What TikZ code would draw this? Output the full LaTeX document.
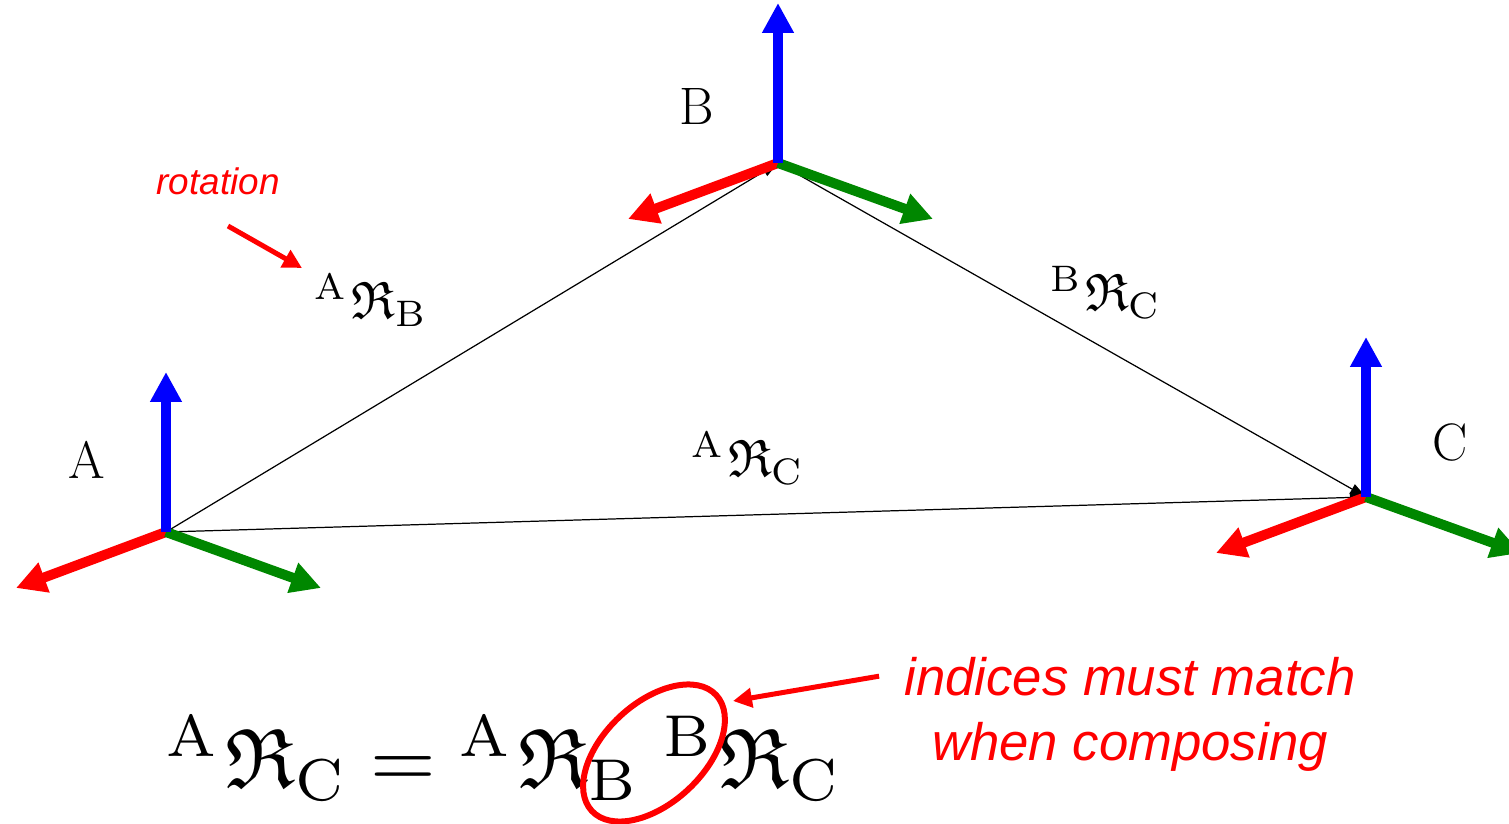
\documentclass[tikz,border=0pt]{standalone}
\usepackage{amsmath,amssymb}
\usepackage{fontspec}
\newfontfamily\notefont{Liberation Sans}
\usepackage{tikz}
\usetikzlibrary{positioning,arrows.meta,calc,shapes.geometric}
\definecolor{axisgreen}{RGB}{0,135,0}
\tikzset{
  axis/.style={line width=0.2cm, -{Triangle[length=0.6cm,width=0.6cm]}},
  xaxis/.style={axis, red},
  yaxis/.style={axis, axisgreen},
  zaxis/.style={axis, blue},
  link/.style={line width=0.7pt, -{Triangle[length=0.32cm,width=0.22cm]}},
  framelbl/.style={font=\fontsize{30}{36}\selectfont},
  rotlbl/.style={scale=3, inner sep=1pt},
  note/.style={red, font=\notefont\itshape\fontsize{30}{37}\selectfont, inner sep=0pt},
  notearrow/.style={red, line width=0.1cm, -{Triangle[length=0.38cm,width=0.38cm]}},
}
\newcommand{\rotm}[2]{{}^{\mathrm{#1}}\mkern1mu\mathfrak{R}_{\mathrm{#2}}}

\begin{document}
\begin{tikzpicture}[x=0.02cm, y=-0.02cm]
\clip (0,0) rectangle (1509,824);

% frame origins
\coordinate (A) at (166,532);
\coordinate (B) at (778,163);
\coordinate (C) at (1366,497);

% transforms between frames
\draw[link] (A) -- (B);
\draw[link] (B) -- (C);
\draw[link] (A) -- (C);

\foreach \f in {A,B,C} {
  \draw[xaxis] (\f) -- ++(-150,56);
  \draw[yaxis] (\f) -- ++(155,56);
  \draw[zaxis] (\f) -- ++(0,-160);
}

\node[framelbl] (lA) at (87,460) {A};
\node[framelbl] (lB) at (697,107) {B};
\node[framelbl] (lC) at (1450,442) {C};

\node[rotlbl] (aRb) at (371,300) {$\rotm{A}{B}$};
\node[rotlbl] (bRc) at (1106,293) {$\rotm{B}{C}$};
\node[rotlbl] (aRc) at (748,458) {$\rotm{A}{C}$};

% annotation
\node[note, font=\notefont\itshape\fontsize{21}{25}\selectfont] (rot) at (218,181) {rotation};
\coordinate (r0) at (228,226);
\coordinate (r1) at (302,268);
\draw[notearrow] (r0) -- (r1);

% composition rule
\node[scale=4.8] (eq) at (504,758)
  {$\rotm{A}{C} = \rotm{A}{B}\;\rotm{B}{C}$};
\node[draw=red, line width=0.12cm, ellipse, rotate=43, inner sep=0pt,
  minimum width=3.4cm, minimum height=2cm] (ring) at (654,753) {};

\node[note, anchor=base] (l1) at (1130,695) {indices must match};
\node[note, anchor=base] (l2) at (1130,760) {when composing};
\coordinate (ringtip) at (733,701);
\draw[notearrow] ($(l1.west)+(-25,0)$) -- (ringtip);
\end{tikzpicture}
\end{document}
